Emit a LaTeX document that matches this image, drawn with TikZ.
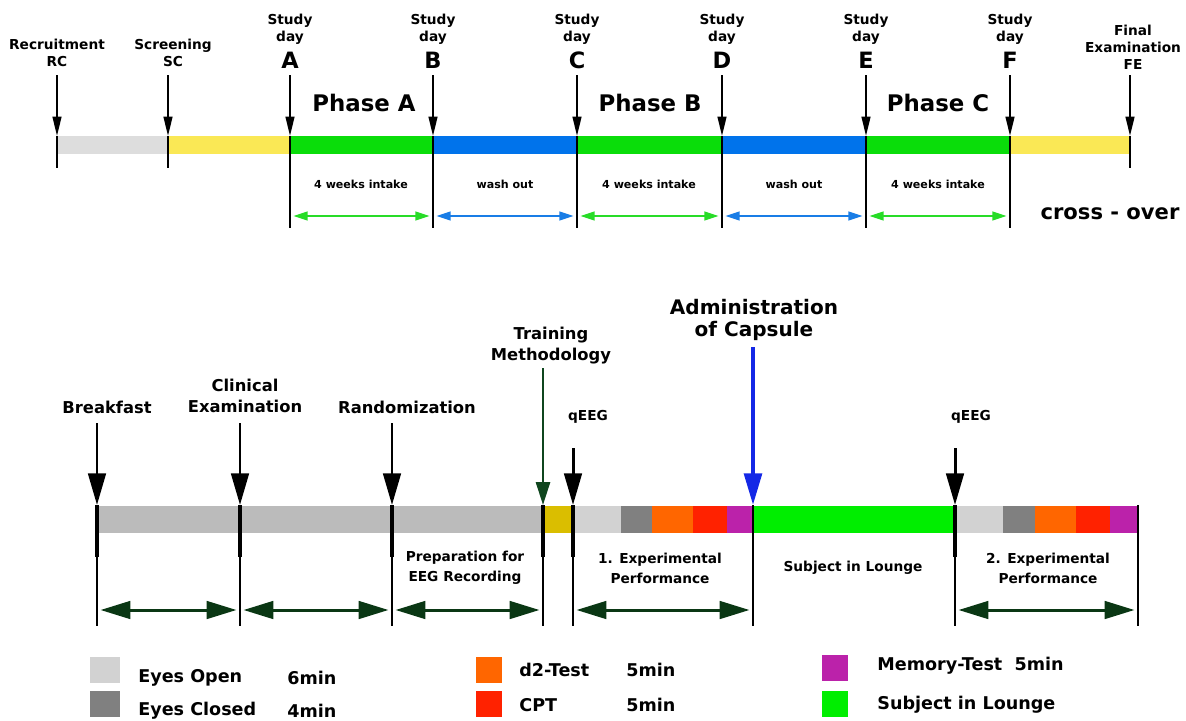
\documentclass[tikz,border=0pt]{standalone}
\usepackage{fontspec}
\setmainfont{DejaVu Sans}
\usetikzlibrary{arrows.meta,positioning}

\definecolor{rcgray}{RGB}{221,221,221}
\definecolor{scyellow}{RGB}{250,232,85}
\definecolor{intakegreen}{RGB}{10,221,10}
\definecolor{washblue}{RGB}{0,115,235}
\definecolor{arrgreen}{RGB}{40,220,40}
\definecolor{arrblue}{RGB}{25,125,230}
\definecolor{daygray}{RGB}{187,187,187}
\definecolor{traingold}{RGB}{218,190,0}
\definecolor{opengray}{RGB}{210,210,210}
\definecolor{closedgray}{RGB}{128,128,128}
\definecolor{dtwo}{RGB}{255,102,0}
\definecolor{cptred}{RGB}{255,34,0}
\definecolor{memviolet}{RGB}{187,34,170}
\definecolor{lounge}{RGB}{0,238,0}
\definecolor{darkarr}{RGB}{10,55,20}
\definecolor{trainarr}{RGB}{15,70,30}
\definecolor{capblue}{RGB}{20,40,230}

\tikzset{
  lbl/.style={font=\bfseries\fontsize{7.8}{9.6}\selectfont, align=center, inner sep=0pt},
  dayletter/.style={font=\bfseries\fontsize{12.8}{13}\selectfont, inner sep=0pt},
  phaselbl/.style={font=\bfseries\fontsize{13}{14}\selectfont, inner sep=0pt},
  smalllbl/.style={font=\bfseries\fontsize{6.3}{7}\selectfont, inner sep=0pt},
  evlbl/.style={font=\bfseries\fontsize{9.3}{12}\selectfont, align=center, inner sep=0pt},
  periodlbl/.style={font=\bfseries\fontsize{7.8}{11.3}\selectfont, align=center, inner sep=0pt},
  legtext/.style={font=\bfseries\fontsize{10}{12}\selectfont, anchor=west, inner sep=0pt},
  pointer/.style={line width=1.1pt, -{Triangle[width=5pt,length=11pt]}},
  tickline/.style={line width=1.1pt},
  durarrow/.style={line width=0.9pt, {Triangle[width=5pt,length=8pt]}-{Triangle[width=5pt,length=8pt]}, shorten <=2pt, shorten >=2pt},
  bigpointer/.style={line width=1.7pt, -{Triangle[width=10pt,length=18pt]}},
  bigdur/.style={line width=1.7pt, darkarr, {Triangle[width=10pt,length=17pt]}-{Triangle[width=10pt,length=17pt]}, shorten <=2pt, shorten >=2pt},
  legbox/.style={minimum width=15pt, minimum height=15pt, inner sep=0pt},
}

\begin{document}
\begin{tikzpicture}[x=0.02cm,y=-0.02cm]
    \useasboundingbox (0,0) rectangle (1186,720);

    % Cross-over bar
    \foreach \xa/\xb/\col in {57/168/rcgray, 168/290/scyellow, 290/433/intakegreen, 433/577/washblue, 577/722/intakegreen, 722/866/washblue, 866/1010/intakegreen, 1010/1130/scyellow}
        \fill[\col] (\xa,136) rectangle (\xb,154);

    % Recruitment, screening, final examination
    \foreach \n/\x in {RC/57, SC/168, FE/1130}{
        \coordinate (s\n) at (\x,75);
        \coordinate (b\n) at (\x,136);
        \coordinate (e\n) at (\x,168);
        \draw[pointer] (s\n) -- (b\n);
        \draw[tickline] (b\n) -- (e\n);
    }
    \node[lbl] (lRC) at (57,53) {Recruitment\\RC};
    \node[lbl] (lSC) at (173,53) {Screening\\SC};
    \node[lbl] (lFE) at (1133,47) {Final\\Examination\\FE};

    % Study days
    \foreach \n/\x/\w in {A/290/1.1, B/433/1.1, C/577/1.1, D/722/1.6, E/866/1.1, F/1010/1.1}{
        \coordinate (s\n) at (\x,75);
        \coordinate (b\n) at (\x,136);
        \coordinate (e\n) at (\x,228);
        \coordinate (m\n) at (\x,216);
        \node[lbl] (d\n) at (\x,29) {Study\\day};
        \node[dayletter] (L\n) at (\x,60) {\n};
        \draw[pointer] (s\n) -- (b\n);
        \draw[line width=\w pt] (b\n) -- (e\n);
    }

    % Phases
    \node[phaselbl] (phA) at (364,103) {Phase A};
    \node[phaselbl] (phB) at (650,103) {Phase B};
    \node[phaselbl] (phC) at (938,103) {Phase C};

    \node[smalllbl] (iA) at (361,184) {4 weeks intake};
    \node[smalllbl] (wA) at (505,184) {wash out};
    \node[smalllbl] (iB) at (649,184) {4 weeks intake};
    \node[smalllbl] (wB) at (794,184) {wash out};
    \node[smalllbl] (iC) at (938,184) {4 weeks intake};

    \draw[durarrow, arrgreen] (mA) -- (mB);
    \draw[durarrow, arrblue] (mB) -- (mC);
    \draw[durarrow, arrgreen] (mC) -- (mD);
    \draw[durarrow, arrblue] (mD) -- (mE);
    \draw[durarrow, arrgreen] (mE) -- (mF);

    \node[font=\bfseries\fontsize{12}{14}\selectfont, inner sep=0pt] (cross) at (1110,214) {cross - over};

    % Study day bar
    \foreach \xa/\xb/\col in {97/543/daygray, 543/573/traingold, 573/621/opengray, 621/652/closedgray, 652/693/dtwo, 693/727/cptred, 727/753/memviolet, 753/955/lounge, 955/1003/opengray, 1003/1035/closedgray, 1035/1076/dtwo, 1076/1110/cptred, 1110/1138/memviolet}
        \fill[\col] (\xa,506) rectangle (\xb,533);

    \foreach \n/\x/\w in {bk/97/2.3, ce/240/2.3, rd/392/2.3, tm/543/2.3, qa/573/2.3, ad/753/1.3, qb/955/2.3, en/1138/1.3}{
        \coordinate (t\n) at (\x,505);
        \coordinate (k\n) at (\x,557);
        \coordinate (f\n) at (\x,626);
        \coordinate (m\n) at (\x,610);
        \draw[line width=\w pt] (t\n) -- (k\n);
        \draw[line width=1.2pt] (k\n) -- (f\n);
    }

    % Events
    \foreach \n/\x/\y in {bk/97/423, ce/240/423, rd/392/423, qa/573/448, qb/955/448}{
        \coordinate (p\n) at (\x,\y);
        \draw[bigpointer] (p\n) -- (t\n);
    }
    \coordinate (ptm) at (543,368);
    \draw[line width=1.3pt, trainarr, -{Triangle[width=8pt,length=13pt]}] (ptm) -- (ttm);
    \coordinate (pad) at (753,347);
    \draw[line width=2.3pt, capblue, -{Triangle[width=10pt,length=18pt]}] (pad) -- (tad);

    \node[evlbl] (lbk) at (107,407) {Breakfast};
    \node[evlbl] (lce) at (245,396) {Clinical\\Examination};
    \node[evlbl] (lrd) at (407,407) {Randomization};
    \node[evlbl] (ltm) at (551,346) {Training\\Methodology};
    \node[font=\bfseries\fontsize{7.8}{9}\selectfont, inner sep=0pt] (lqa) at (588,417) {qEEG};
    \node[font=\bfseries\fontsize{7.8}{9}\selectfont, inner sep=0pt] (lqb) at (971,417) {qEEG};
    \node[font=\bfseries\fontsize{11.4}{13}\selectfont, align=center, inner sep=0pt] (lad) at (754,320) {Administration\\of Capsule};

    % Periods
    \node[periodlbl] (prep) at (465,568) {Preparation for\\EEG Recording};
    \node[periodlbl] (expa) at (660,568) {1. Experimental\\Performance};
    \node[periodlbl] (lng) at (853,568) {Subject in Lounge};
    \node[periodlbl] (expb) at (1048,568) {2. Experimental\\Performance};

    \draw[bigdur] (mbk) -- (mce);
    \draw[bigdur] (mce) -- (mrd);
    \draw[bigdur] (mrd) -- (mtm);
    \draw[bigdur] (mqa) -- (mad);
    \draw[bigdur] (mqb) -- (men);

    % Legend
    \node[legbox, fill=opengray, minimum width=17pt] (kOpen) at (105,670) {};
    \node[legbox, fill=closedgray, minimum width=17pt] (kClosed) at (105,704) {};
    \node[legtext] (tOpen) at (138,678) {Eyes Open};
    \node[legtext] (mOpen) at (287,678) {6min};
    \node[legtext] (tClosed) at (138,711) {Eyes Closed};
    \node[legtext] (mClosed) at (287,711) {4min};

    \node[legbox, fill=dtwo] (kD) at (489,670) {};
    \node[legbox, fill=cptred] (kCPT) at (489,704) {};
    \node[legtext] (tD) at (519,670) {d2-Test};
    \node[legtext] (mD) at (626,670) {5min};
    \node[legtext] (tCPT) at (519,705) {CPT};
    \node[legtext] (mCPT) at (626,705) {5min};

    \node[legbox, fill=memviolet] (kMem) at (835,668) {};
    \node[legbox, fill=lounge] (kLng) at (835,704) {};
    \node[legtext] (tMem) at (877,666) {Memory-Test\ \ 5min};
    \node[legtext] (tLng) at (877,705) {Subject in Lounge};
\end{tikzpicture}
\end{document}
